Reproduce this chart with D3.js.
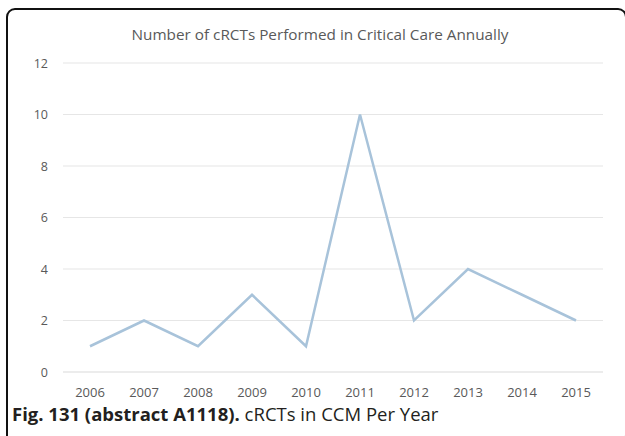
<!DOCTYPE html>
<html>
<head>
<meta charset="utf-8">
<script src="https://cdn.jsdelivr.net/npm/d3@7"></script>
<style>
  body { margin: 0; background: #fff; }
  svg { display: block; }
</style>
</head>
<body>
<div id="chart"></div>
<script>
// values
const years = ["2006", "2007", "2008", "2009", "2010", "2011", "2012", "2013", "2014", "2015"];
const trials = [1, 2, 1, 3, 1, 10, 2, 4, 3, 2];
const yTicks = [0, 2, 4, 6, 8, 10, 12];

const width = 625, height = 436;

const svg = d3.select("#chart")
  .append("svg")
  .attr("width", width)
  .attr("height", height);

// frame around the figure (rounded, clipped on the right/bottom)
svg.append("rect")
  .attr("x", 7)
  .attr("y", 9)
  .attr("width", 619)
  .attr("height", 434)
  .attr("rx", 8)
  .attr("fill", "none")
  .attr("stroke", "#111")
  .attr("stroke-width", 2);

// plot area
const plot = { left: 63, right: 603, top: 63, bottom: 372 };

const x = d3.scalePoint()
  .domain(years)
  .range([plot.left, plot.right])
  .padding(0.5);

const y = d3.scaleLinear()
  .domain([0, 12])
  .range([plot.bottom, plot.top]);

// horizontal grid
svg.append("g")
  .selectAll("line")
  .data(yTicks)
  .join("line")
  .attr("x1", plot.left)
  .attr("x2", plot.right)
  .attr("y1", d => y(d))
  .attr("y2", d => y(d))
  .attr("stroke", d => d === 0 ? "#d9d9d9" : "#e6e6e6")
  .attr("stroke-width", 1.2);

// y labels
svg.append("g")
  .selectAll("text")
  .data(yTicks)
  .join("text")
  .attr("x", 48)
  .attr("y", d => y(d) + 4.5)
  .attr("text-anchor", "end")
  .attr("font-family", "'Open Sans', sans-serif")
  .attr("font-size", 12.5)
  .attr("fill", "#595959")
  .text(d => d);

// x labels
svg.append("g")
  .selectAll("text")
  .data(years)
  .join("text")
  .attr("x", d => x(d))
  .attr("y", 397)
  .attr("text-anchor", "middle")
  .attr("font-family", "'Open Sans', sans-serif")
  .attr("font-size", 13)
  .attr("fill", "#595959")
  .text(d => d);

// the line
const line = d3.line()
  .x((d, i) => x(years[i]))
  .y(d => y(d));

svg.append("path")
  .datum(trials)
  .attr("d", line)
  .attr("fill", "none")
  .attr("stroke", "#a8c3da")
  .attr("stroke-width", 2.5)
  .attr("stroke-linejoin", "miter");

// chart title
svg.append("text")
  .attr("x", 320)
  .attr("y", 40)
  .attr("text-anchor", "middle")
  .attr("font-family", "'Open Sans', sans-serif")
  .attr("font-size", 15.3)
  .attr("fill", "#595959")
  .text("Number of cRCTs Performed in Critical Care Annually");

// figure caption
const cap = svg.append("text")
  .attr("x", 12)
  .attr("y", 421)
  .attr("font-family", "'Open Sans', sans-serif")
  .attr("font-size", 18.5)
  .attr("fill", "#231f20");
cap.append("tspan")
  .attr("font-weight", "bold")
  .text("Fig. 131 (abstract A1118).");
cap.append("tspan")
  .text(" cRCTs in CCM Per Year");
</script>
</body>
</html>
